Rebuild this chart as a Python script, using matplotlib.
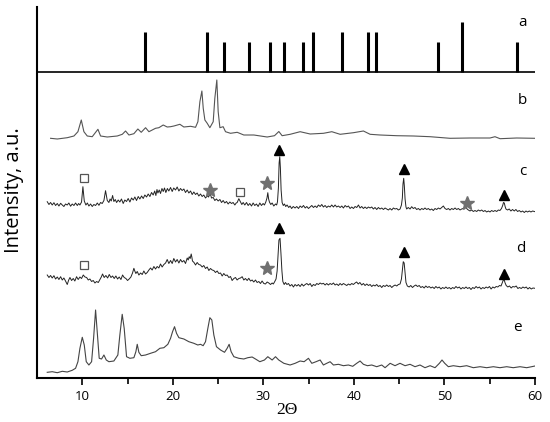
import matplotlib
matplotlib.use("Agg")
import matplotlib.pyplot as plt

# stick pattern (a)
a_pos = [16.95, 23.76, 25.67, 28.43, 30.75, 32.29, 34.43, 35.46, 38.66, 41.53, 42.45, 49.33, 51.98, 58.05]
a_int = [39.4, 39.4, 29.4, 29.4, 29.4, 29.4, 29.4, 39.4, 39.4, 39.4, 39.4, 29.4, 49.4, 29.4]

# trace b
b_x = [6.50, 7.24, 8.34, 9.08, 9.52, 9.89, 10.18, 10.55, 11.10, 11.73, 12.02, 12.76, 13.86, 14.42,
       14.78, 15.15, 15.70, 16.14, 16.51, 16.99, 17.36, 18.09, 18.46, 18.94, 19.38, 19.75, 20.12,
       20.78, 21.22, 21.96, 22.51, 22.77, 22.99, 23.21, 23.36, 23.54, 23.80, 24.09, 24.46, 24.64,
       24.86, 25.01, 25.20, 25.56, 25.82, 26.37, 27.11, 27.84, 28.95, 30.42, 31.23, 31.71, 32.07,
       32.96, 34.06, 35.17, 36.64, 37.56, 38.48, 39.95, 41.05, 41.79, 42.89, 44.73, 46.57, 48.41,
       50.62, 52.83, 55.03, 55.58, 56.14, 57.98, 60.0]
b_y = [1.7, 1.0, 2.3, 4.0, 8.3, 20.0, 8.3, 4.0, 3.3, 10.7, 4.0, 3.0, 4.0, 5.7,
       9.0, 5.0, 6.3, 11.0, 7.7, 12.3, 8.3, 11.7, 12.3, 15.0, 13.0, 13.3, 14.0,
       15.7, 13.0, 13.7, 12.7, 18.3, 38.3, 49.0, 31.7, 20.0, 16.7, 12.3, 18.3, 41.7,
       60.0, 28.3, 12.3, 13.3, 8.3, 6.7, 7.7, 5.0, 5.0, 3.0, 4.3, 8.5, 4.3,
       5.7, 8.3, 6.0, 6.7, 8.3, 5.7, 7.3, 9.0, 5.7, 5.0, 4.3, 4.0, 3.3,
       1.7, 2.0, 2.0, 3.3, 1.3, 2.0, 1.7]

# trace c
c_x = [6.13, 6.32, 6.50, 6.68, 6.87, 7.05, 7.24, 7.42, 7.61, 7.79, 7.97, 8.15, 8.34, 8.52,
       8.71, 8.89, 9.08, 9.26, 9.45, 9.60, 9.74, 9.92, 10.07, 10.22, 10.40, 10.56, 10.73, 10.92,
       11.10, 11.28, 11.47, 11.66, 11.84, 12.02, 12.20, 12.39, 12.57, 12.76, 12.94, 13.07, 13.20,
       13.35, 13.49, 13.64, 13.79, 13.97, 14.15, 14.33, 14.52, 14.70, 14.89, 15.07, 15.26, 15.44,
       15.63, 15.81, 15.99, 16.18, 16.36, 16.55, 16.73, 16.91, 17.10, 17.28, 17.47, 17.65, 17.83,
       18.00, 18.13, 18.25, 18.35, 18.50, 18.64, 18.80, 18.94, 19.08, 19.23, 19.40, 19.56, 19.75,
       19.93, 20.10, 20.30, 20.48, 20.67, 20.85, 21.03, 21.22, 21.40, 21.59, 21.77, 21.96, 22.14,
       22.32, 22.51, 22.69, 22.87, 23.06, 23.24, 23.42, 23.61, 23.80, 23.95, 24.09, 24.20, 24.27,
       24.46, 24.64, 24.82, 25.01, 25.20, 25.38, 25.56, 25.74, 25.93, 26.11, 26.30, 26.48, 26.66,
       26.85, 27.00, 27.11, 27.29, 27.47, 27.62, 27.77, 27.95, 28.14, 28.32, 28.50, 28.69, 28.87,
       29.05, 29.24, 29.42, 29.61, 29.79, 29.97, 30.12, 30.27, 30.40, 30.49, 30.58, 30.67, 30.82,
       30.97, 31.15, 31.34, 31.47, 31.56, 31.66, 31.74, 31.81, 31.88, 31.96, 32.07, 32.20, 32.33,
       32.47, 32.62, 32.80, 32.95, 33.12, 33.30, 33.50, 33.69, 33.88, 34.06, 34.25, 34.43, 34.62,
       34.80, 34.98, 35.16, 35.35, 35.53, 35.72, 35.90, 36.08, 36.27, 36.45, 36.63, 36.82, 37.00,
       37.18, 37.37, 37.55, 37.74, 37.92, 38.10, 38.29, 38.48, 38.66, 38.84, 39.03, 39.21, 39.40,
       39.58, 39.76, 39.95, 40.13, 40.31, 40.50, 40.68, 40.86, 41.05, 41.23, 41.42, 41.60, 41.78,
       41.97, 42.15, 42.33, 42.52, 42.70, 42.89, 43.07, 43.26, 43.44, 43.62, 43.81, 43.99, 44.18,
       44.36, 44.54, 44.73, 44.91, 45.10, 45.25, 45.35, 45.42, 45.50, 45.57, 45.65, 45.75, 45.83,
       46.00, 46.20, 46.38, 46.56, 46.75, 46.93, 47.12, 47.30, 47.49, 47.67, 47.85, 48.04, 48.22,
       48.41, 48.59, 48.77, 48.96, 49.14, 49.33, 49.51, 49.70, 49.88, 50.06, 50.25, 50.43, 50.61,
       50.80, 50.98, 51.17, 51.35, 51.54, 51.72, 51.90, 52.10, 52.27, 52.40, 52.50, 52.64, 52.82,
       53.00, 53.19, 53.37, 53.56, 53.74, 53.93, 54.11, 54.30, 54.48, 54.66, 54.85, 55.03, 55.21,
       55.40, 55.58, 55.77, 55.95, 56.13, 56.30, 56.43, 56.52, 56.61, 56.70, 56.79, 56.97, 57.15,
       57.34, 57.52, 57.71, 57.89, 58.08, 58.26, 58.45, 58.63, 58.82, 59.00, 59.18, 59.37, 59.55,
       59.74, 59.92, 60.00]
c_y = [6.3, 3.5, 5.5, 3.0, 5.3, 2.5, 4.5, 2.0, 4.7, 3.0, 1.5, 4.0, 3.0, 5.0,
       1.8, 4.0, 2.5, 5.0, 2.5, 4.5, 3.0, 6.0, 21.3, 7.0, 3.0, 5.0, 2.0, 4.0,
       1.5, 3.5, 2.5, 5.0, 2.7, 5.5, 4.5, 7.5, 17.3, 7.5, 5.5, 9.0, 7.0,
       12.5, 6.5, 8.5, 5.5, 8.0, 6.0, 9.0, 4.5, 8.0, 6.5, 9.5, 6.0, 10.0,
       8.0, 11.0, 7.5, 11.5, 9.0, 12.0, 9.5, 13.0, 11.0, 14.0, 11.5, 15.5, 13.0,
       17.0, 12.5, 18.5, 15.0, 18.0, 14.5, 19.5, 16.5, 20.0, 15.5, 19.5, 17.0, 20.5,
       16.5, 20.0, 18.0, 21.0, 17.0, 19.5, 17.5, 19.0, 15.5, 18.0, 15.0, 17.0, 13.5,
       16.0, 13.5, 15.0, 12.0, 14.0, 11.5, 13.0, 10.0, 12.0, 11.0, 14.0, 12.5, 10.0,
       10.5, 7.5, 9.0, 7.0, 8.5, 5.5, 7.5, 5.0, 6.5, 4.0, 6.0, 4.5, 5.5,
       3.0, 5.0, 5.5, 9.3, 6.0, 3.5, 5.5, 3.0, 5.5, 2.5, 4.5, 2.0, 5.0,
       2.5, 4.0, 1.5, 5.0, 2.5, 4.5, 3.0, 6.0, 10.0, 15.3, 9.0, 6.0, 3.5,
       5.0, 2.0, 4.0, 3.0, 6.3, 20.0, 45.0, 51.3, 40.0, 18.0, 5.5, 2.5, 4.0,
       1.5, 3.0, 0.5, 2.0, -0.5, 1.5, 0.0, 1.5, -0.5, 2.0, 0.5, 2.5, 0.0,
       1.5, -0.5, 1.0, 2.5, 0.5, 2.0, 0.5, 3.0, 1.5, 3.5, 1.0, 2.5, 0.5,
       2.0, 1.0, 3.0, 1.0, 3.0, 1.0, 2.0, 0.5, 2.0, 0.0, 2.5, 1.0, 2.0,
       -0.5, 1.0, -0.5, 1.5, 0.5, 3.0, 0.0, 1.5, -0.5, 1.0, -0.5, 1.0, 0.0,
       1.0, -1.0, 0.5, -1.5, 0.5, -1.0, 0.0, -1.5, 0.0, -1.0, -2.0, -0.5, -2.0,
       0.0, -1.0, -0.5, -2.0, -1.0, 3.0, 10.0, 24.0, 29.7, 22.0, 9.0, 1.0, -1.0,
       0.5, -1.0, 1.3, -0.5, 0.5, -1.5, -0.5, -2.0, -0.5, -1.5, 0.0, -1.5, -0.5,
       -2.0, -1.0, -2.5, -0.5, -1.5, 0.0, -1.0, 0.5, 2.0, -0.5, -1.5, -0.5, -2.0,
       -0.5, -1.5, 0.0, -1.5, -0.5, -2.0, -1.0, -0.5, 1.5, 0.5, -1.0, -2.0, -3.0,
       -2.0, -3.5, -2.5, -3.5, -2.0, -3.0, -2.0, -3.5, -2.5, -4.0, -3.0, -4.0, -2.5,
       -3.5, -2.5, -3.5, -2.0, -2.5, -0.5, 2.5, 5.5, 5.0, 1.5, -1.0, -2.0, -1.0,
       -3.0, -1.5, -3.0, -1.5, -3.5, -2.5, -4.0, -3.0, -4.5, -3.0, -4.0, -3.0, -4.0,
       -3.0, -3.5, -3.7]

# trace d
d_x = [6.13, 6.32, 6.50, 6.68, 6.87, 7.05, 7.24, 7.42, 7.61, 7.79, 7.97, 8.15, 8.34, 8.50,
       8.64, 8.82, 9.00, 9.18, 9.37, 9.55, 9.74, 9.92, 10.11, 10.30, 10.48, 10.66, 10.84, 11.03,
       11.21, 11.40, 11.58, 11.77, 11.95, 12.10, 12.24, 12.42, 12.61, 12.80, 12.98, 13.17, 13.35,
       13.53, 13.71, 13.90, 14.08, 14.27, 14.45, 14.63, 14.82, 15.00, 15.18, 15.37, 15.55, 15.70,
       15.80, 15.92, 16.07, 16.25, 16.44, 16.62, 16.80, 16.99, 17.17, 17.36, 17.54, 17.72, 17.91,
       18.09, 18.27, 18.46, 18.64, 18.82, 19.01, 19.20, 19.38, 19.56, 19.75, 19.93, 20.11, 20.30,
       20.48, 20.67, 20.85, 21.03, 21.22, 21.40, 21.59, 21.70, 21.81, 21.92, 22.03, 22.10, 22.17,
       22.34, 22.51, 22.69, 22.87, 23.06, 23.24, 23.42, 23.61, 23.80, 23.98, 24.16, 24.35, 24.53,
       24.71, 24.90, 25.08, 25.27, 25.45, 25.63, 25.82, 26.00, 26.19, 26.37, 26.55, 26.74, 26.92,
       27.10, 27.29, 27.47, 27.66, 27.84, 28.02, 28.21, 28.39, 28.58, 28.76, 28.94, 29.13, 29.31,
       29.50, 29.68, 29.86, 30.05, 30.23, 30.42, 30.60, 30.79, 30.97, 31.10, 31.23, 31.40, 31.52,
       31.62, 31.72, 31.84, 31.94, 32.05, 32.15, 32.30, 32.44, 32.60, 32.77, 32.95, 33.14, 33.32,
       33.50, 33.69, 33.87, 34.06, 34.25, 34.43, 34.62, 34.80, 34.98, 35.17, 35.35, 35.53, 35.72,
       35.90, 36.08, 36.27, 36.45, 36.63, 36.82, 37.00, 37.18, 37.37, 37.55, 37.74, 37.92, 38.10,
       38.29, 38.47, 38.66, 38.84, 39.03, 39.21, 39.39, 39.58, 39.76, 39.94, 40.13, 40.30, 40.48,
       40.66, 40.86, 41.05, 41.23, 41.42, 41.60, 41.79, 41.97, 42.15, 42.33, 42.52, 42.70, 42.89,
       43.07, 43.25, 43.44, 43.62, 43.81, 43.99, 44.18, 44.36, 44.55, 44.73, 44.91, 45.10, 45.25,
       45.35, 45.45, 45.55, 45.65, 45.75, 45.90, 46.10, 46.28, 46.47, 46.65, 46.84, 47.02, 47.21,
       47.39, 47.58, 47.76, 47.94, 48.13, 48.31, 48.50, 48.68, 48.87, 49.05, 49.24, 49.42, 49.61,
       49.79, 49.98, 50.16, 50.35, 50.53, 50.71, 50.90, 51.08, 51.27, 51.45, 51.64, 51.82, 52.01,
       52.19, 52.38, 52.56, 52.75, 52.93, 53.12, 53.30, 53.49, 53.67, 53.86, 54.04, 54.23, 54.41,
       54.60, 54.78, 54.97, 55.15, 55.34, 55.52, 55.71, 55.89, 56.08, 56.25, 56.40, 56.50, 56.60,
       56.70, 56.82, 57.00, 57.18, 57.37, 57.55, 57.74, 57.92, 58.11, 58.29, 58.48, 58.66, 58.85,
       59.03, 59.22, 59.40, 59.59, 59.77, 60.00]
d_y = [8.0, 5.5, 7.5, 5.0, 7.3, 4.0, 6.0, 3.5, 6.3, 3.0, 5.0, 2.0, -1.5, 3.0,
       5.5, 2.5, 4.5, 2.0, 6.3, 3.5, 6.0, 4.5, 8.0, 6.0, 5.5, 3.0, 4.0, 1.5,
       2.5, 0.0, 1.5, 0.5, 3.5, 6.0, 9.0, 5.5, 7.5, 5.0, 8.5, 5.5, 7.0,
       4.5, 7.0, 4.0, 6.0, 3.5, 8.0, 5.5, 4.5, 2.5, 4.0, 6.0, 10.0, 14.7,
       12.0, 9.5, 11.5, 8.0, 10.0, 8.5, 12.0, 9.0, 10.5, 13.0, 15.0, 13.0, 16.5,
       14.0, 16.5, 15.0, 19.0, 16.0, 18.5, 20.0, 23.5, 19.5, 22.5, 19.5, 24.5, 21.0,
       23.5, 20.0, 23.5, 21.0, 22.5, 19.5, 25.0, 23.0, 26.3, 24.5, 29.0, 26.0, 22.0,
       20.5, 18.0, 20.5, 18.5, 18.0, 16.0, 17.5, 14.5, 16.0, 12.5, 14.5, 13.0, 12.5,
       10.5, 12.0, 9.5, 10.0, 7.0, 9.5, 7.5, 8.0, 5.5, 6.5, 2.5, 4.5, 5.5,
       3.0, 4.5, 5.0, 6.3, 3.0, 4.5, 2.5, 4.7, 2.0, 3.0, 1.0, 3.0, 0.5,
       1.5, -0.5, 2.0, -0.5, -1.0, 1.0, 0.0, -1.5, 0.0, -1.0, 1.0, 4.0, 12.0,
       28.0, 43.0, 44.7, 30.0, 12.0, 1.5, -1.5, 0.5, -1.5, -0.5, -3.0, -1.5, -4.0,
       -1.5, -3.0, -1.5, -3.5, -1.0, -3.0, -1.5, -0.5, -2.0, -0.5, -3.5, -1.5, -2.5,
       -0.5, -1.5, 0.0, -1.0, -0.3, -2.0, -0.5, -2.0, -0.5, -1.5, 0.0, -2.0, -1.0,
       -2.5, -0.5, -2.0, -0.5, -1.5, -2.5, -1.0, -2.0, -0.5, -1.5, 0.0, 1.0, -1.0,
       0.5, -2.0, -0.5, -2.5, -1.0, -2.5, -1.5, -3.5, -2.0, -3.0, -1.5, -3.5, -2.5,
       -4.5, -2.5, -3.5, -2.0, -3.5, -2.5, -4.5, -3.0, -2.0, -3.0, -1.5, -1.0, 4.0,
       13.0, 21.3, 20.0, 10.0, 0.5, -3.0, -4.0, -2.5, -4.5, -3.0, -2.0, -3.5, -2.5,
       -4.5, -3.5, -5.0, -3.0, -4.5, -3.5, -5.0, -4.0, -5.5, -3.5, -5.0, -4.0, -6.0,
       -4.5, -5.5, -4.0, -5.5, -4.5, -6.0, -4.5, -5.5, -3.5, -5.0, -4.0, -6.0, -4.5,
       -5.5, -4.0, -5.5, -4.5, -6.5, -4.5, -5.5, -3.5, -5.0, -4.0, -6.0, -4.5, -5.5,
       -4.0, -5.0, -3.5, -6.0, -4.0, -5.0, -3.5, -4.0, -2.5, -3.0, 0.5, 3.0, 3.0,
       0.0, -2.5, -4.0, -3.0, -5.0, -3.5, -4.0, -3.0, -5.5, -4.5, -5.5, -4.0, -5.0,
       -4.0, -6.0, -4.5, -6.0, -5.0, -5.3]

# trace e
e_x = [6.13, 6.69, 7.24, 7.79, 8.34, 8.89, 9.26, 9.52, 9.74, 10.00, 10.22, 10.44, 10.73, 11.03,
       11.25, 11.47, 11.65, 11.87, 12.13, 12.39, 12.65, 12.94, 13.49, 13.93, 14.15, 14.41, 14.63,
       14.89, 15.26, 15.70, 15.92, 16.07, 16.25, 16.51, 16.99, 17.54, 18.09, 18.57, 19.01, 19.45,
       19.75, 19.97, 20.19, 20.41, 20.67, 21.22, 21.77, 22.32, 22.76, 23.06, 23.35, 23.61, 23.87,
       24.09, 24.31, 24.53, 24.82, 25.27, 25.71, 26.00, 26.22, 26.44, 26.74, 27.29, 27.84, 28.28,
       28.76, 29.13, 29.61, 30.12, 30.49, 30.97, 31.34, 31.70, 32.26, 32.95, 33.51, 34.06, 34.50,
       34.98, 35.35, 35.82, 36.27, 36.63, 37.00, 37.37, 37.74, 38.29, 38.84, 39.39, 39.87, 40.31,
       40.68, 41.05, 41.49, 41.97, 42.52, 43.07, 43.44, 44.00, 44.54, 45.09, 45.65, 46.20, 46.75,
       47.30, 47.85, 48.41, 48.96, 49.44, 49.73, 50.03, 50.43, 50.98, 51.72, 52.45, 53.19, 53.93,
       54.66, 55.40, 56.13, 56.87, 57.60, 58.34, 59.08, 59.63, 60.0]
e_y = [5.7, 6.3, 5.3, 6.7, 6.0, 7.7, 9.7, 16.3, 29.7, 40.7, 33.0, 16.3, 13.0, 16.3,
       39.7, 68.0, 46.3, 19.7, 19.0, 23.0, 18.0, 16.3, 17.0, 23.0, 43.0, 63.7, 49.7,
       21.3, 19.7, 20.3, 26.3, 33.7, 25.7, 22.3, 23.0, 24.7, 26.3, 29.7, 30.3, 33.7,
       39.7, 46.3, 51.3, 44.7, 40.3, 39.0, 36.3, 34.7, 33.0, 33.7, 32.3, 36.3, 49.7,
       60.3, 58.0, 43.0, 31.3, 28.0, 25.7, 29.7, 33.7, 26.3, 21.3, 19.7, 19.0, 20.3,
       21.0, 19.0, 16.3, 18.0, 21.3, 18.0, 21.3, 18.0, 14.7, 13.0, 14.7, 17.0, 16.3,
       19.7, 14.7, 16.3, 18.0, 13.0, 14.7, 16.3, 13.0, 13.7, 12.3, 13.0, 11.7, 14.7,
       17.0, 13.7, 12.3, 13.0, 11.3, 13.0, 10.3, 14.7, 12.3, 14.7, 12.3, 13.7, 11.3,
       13.0, 10.3, 12.3, 10.3, 14.7, 18.0, 14.7, 11.3, 12.3, 11.3, 12.3, 10.3, 11.3,
       10.3, 11.3, 10.3, 11.3, 10.3, 11.3, 10.3, 11.3, 12.0]

offsets = {"a": 306.3, "b": 238, "c": 170, "d": 95, "e": 0}
labels = ["a", "b", "c", "d", "e"]
label_y = [355.3, 278, 206.3, 129.7, 50.7]
label_x = [58.6, 58.6, 58.6, 58.4, 58.1]

# phase markers (2theta, height)
tri_x = [31.78, 45.54, 56.57, 31.78, 45.54, 56.57]
tri_y = [228, 208.7, 183, 149.7, 125.7, 103.7]
star_x = [24.16, 30.42, 52.45, 30.42]
star_y = [188, 194.7, 174.7, 109.7]
sq_x = [10.18, 27.47, 10.18]
sq_y = [200.3, 186.3, 113]

plt.rcParams["font.family"] = ["Open Sans", "DejaVu Sans"]
fig = plt.figure(figsize=(5.5, 4.22), dpi=100)
ax = fig.add_axes([37 / 550, 44 / 422, 498 / 550, 371 / 422])

# stick pattern
ax.axhline(offsets["a"], color="black", lw=1.2)
ax.vlines(a_pos, offsets["a"], [offsets["a"] + h for h in a_int], color="black", lw=2.2)

ax.plot(b_x, [offsets["b"] + v for v in b_y], color="#555555", lw=0.8)
ax.plot(c_x, [offsets["c"] + v for v in c_y], color="#222222", lw=0.7)
ax.plot(d_x, [offsets["d"] + v for v in d_y], color="#222222", lw=0.7)
ax.plot(e_x, [offsets["e"] + v for v in e_y], color="#444444", lw=0.8)

ax.plot(tri_x, tri_y, "^", color="black", ms=7, ls="none")
ax.plot(star_x, star_y, "*", color="#707070", ms=10, ls="none")
ax.plot(sq_x, sq_y, "s", mfc="white", mec="#555555", mew=0.9, ms=6, ls="none")

for lx, ly, t in zip(label_x, label_y, labels):
    ax.text(lx, ly, t, ha="center", va="center", fontsize=11)

ax.set_xlim(5, 60)
ax.set_ylim(0, 371)
ax.set_xticks([10, 20, 30, 40, 50, 60])
ax.set_xticks([15, 25, 35, 45, 55], minor=True)
ax.tick_params(axis="x", which="major", direction="out", length=5, width=1.2, labelsize=9.5, pad=4)
ax.tick_params(axis="x", which="minor", direction="out", length=4, width=1.2)
ax.set_yticks([])
ax.spines["top"].set_visible(False)
ax.spines["right"].set_visible(False)
ax.spines["left"].set_linewidth(1.5)
ax.spines["bottom"].set_linewidth(1.5)

fig.text(287 / 550, (422 - 410) / 422, "2\u0398", ha="center", va="center",
         fontsize=12.5, family=["Liberation Serif", "DejaVu Serif"])
fig.text(14 / 550, (422 - 190) / 422, "Intensity, a.u.", rotation=90,
         ha="center", va="center", fontsize=14.5)

fig.savefig("out.png", dpi=100)
